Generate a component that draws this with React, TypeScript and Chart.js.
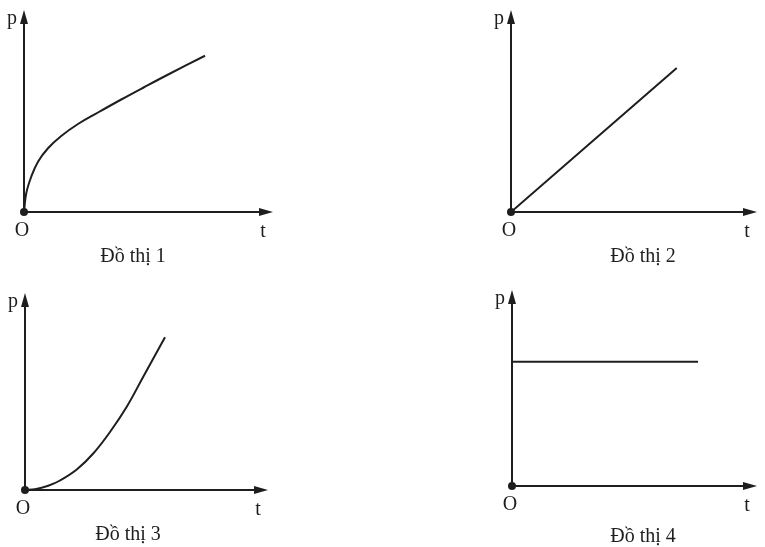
import React, { useEffect, useRef } from "react";
import { Chart, registerables } from "chart.js";

Chart.register(...registerables);

// ---- data (t, p in arbitrary units) ----
const captions = ["Đồ thị 1", "Đồ thị 2", "Đồ thị 3", "Đồ thị 4"];
const axisLabelP = "p";
const axisLabelT = "t";
const originLabel = "O";

const axisMaxT = [9.96, 9.84, 9.72, 9.8];
const axisMaxP = [8.08, 8.08, 7.88, 7.84];

const graph1T = [0, 0.09, 0.29, 0.56, 0.96, 1.49, 2.16, 2.96, 3.89, 4.8, 5.71, 7.24];
const graph1P = [0, 0.75, 1.41, 2.01, 2.55, 3.04, 3.52, 3.98, 4.5, 4.99, 5.47, 6.25];

const graph2T = [0, 6.63];
const graph2P = [0, 5.76];

const graph3T = [0, 0.4, 0.93, 1.4, 2.07, 2.73, 3.4, 4.07, 4.73, 5.6];
const graph3P = [0, 0.03, 0.17, 0.38, 0.82, 1.46, 2.32, 3.33, 4.53, 6.11];

const graph4T = [0, 7.44];
const graph4P = [4.97, 4.97];

const seriesT = [graph1T, graph2T, graph3T, graph4T];
const seriesP = [graph1P, graph2P, graph3P, graph4P];

// ---- styling / layout ----
const INK = "#1e1e1e";
const FONT = "20px 'Liberation Serif', 'Times New Roman', serif";

type Box = {
  left: number; top: number; width: number; height: number;
  pad: { left: number; top: number; right: number; bottom: number };
  capDx: number; capDy: number;
};

const boxes: Box[] = [
  { left: 0, top: 0, width: 382, height: 273, pad: { left: 24, top: 10, right: 109, bottom: 61 }, capDx: 109, capDy: 50 },
  { left: 383, top: 0, width: 382, height: 273, pad: { left: 128, top: 10, right: 8, bottom: 61 }, capDx: 132, capDy: 50 },
  { left: 0, top: 274, width: 382, height: 273, pad: { left: 25, top: 19, right: 114, bottom: 57 }, capDx: 103, capDy: 50 },
  { left: 383, top: 274, width: 382, height: 273, pad: { left: 129, top: 16, right: 8, bottom: 61 }, capDx: 131, capDy: 56 },
];

const axesPlugin = {
  id: "physAxes",
  afterDatasetsDraw(chart: any, _args: any, opts: any) {
    const { ctx, chartArea: a } = chart;
    const x0 = a.left, y0 = a.bottom, x1 = a.right, y1 = a.top;
    ctx.save();
    ctx.strokeStyle = INK;
    ctx.fillStyle = INK;
    ctx.lineWidth = 2;
    ctx.lineCap = "butt";
    // x axis
    ctx.beginPath();
    ctx.moveTo(x0, y0);
    ctx.lineTo(x1 - 10, y0);
    ctx.stroke();
    ctx.beginPath();
    ctx.moveTo(x1, y0);
    ctx.lineTo(x1 - 14, y0 - 4);
    ctx.lineTo(x1 - 14, y0 + 4);
    ctx.closePath();
    ctx.fill();
    // y axis
    ctx.beginPath();
    ctx.moveTo(x0, y0);
    ctx.lineTo(x0, y1 + 10);
    ctx.stroke();
    ctx.beginPath();
    ctx.moveTo(x0, y1);
    ctx.lineTo(x0 - 4, y1 + 14);
    ctx.lineTo(x0 + 4, y1 + 14);
    ctx.closePath();
    ctx.fill();
    // origin dot
    ctx.beginPath();
    ctx.arc(x0, y0, 4, 0, Math.PI * 2);
    ctx.fill();
    // labels
    ctx.font = FONT;
    ctx.textAlign = "center";
    ctx.textBaseline = "alphabetic";
    ctx.fillText(axisLabelP, x0 - 12, y1 + 14);
    ctx.fillText(originLabel, x0 - 2, y0 + 24);
    ctx.fillText(axisLabelT, x1 - 10, y0 + 25);
    ctx.fillText(opts.caption, x0 + opts.capDx, y0 + opts.capDy);
    ctx.restore();
  },
};

function Graph({ idx }: { idx: number }) {
  const ref = useRef<HTMLCanvasElement | null>(null);
  const b = boxes[idx];
  useEffect(() => {
    if (!ref.current) return;
    const pts = seriesT[idx].map((t, i) => ({ x: t, y: seriesP[idx][i] }));
    const chart = new Chart(ref.current, {
      type: "scatter",
      data: {
        datasets: [
          {
            data: pts,
            showLine: true,
            borderColor: INK,
            borderWidth: 2,
            pointRadius: 0,
            tension: 0.4,
            fill: false,
          } as any,
        ],
      },
      options: {
        animation: false,
        responsive: false,
        devicePixelRatio: 1,
        layout: { padding: b.pad },
        scales: {
          x: { type: "linear", min: 0, max: axisMaxT[idx], display: false },
          y: { type: "linear", min: 0, max: axisMaxP[idx], display: false },
        },
        plugins: {
          legend: { display: false },
          tooltip: { enabled: false },
          physAxes: { caption: captions[idx], capDx: b.capDx, capDy: b.capDy },
        } as any,
      },
      plugins: [axesPlugin],
    });
    return () => chart.destroy();
  }, [idx]);
  return (
    <canvas
      ref={ref}
      width={b.width}
      height={b.height}
      style={{ position: "absolute", left: b.left, top: b.top, width: b.width, height: b.height }}
    />
  );
}

export default function App() {
  return (
    <div style={{ position: "absolute", left: 0, top: 0, width: 765, height: 547, background: "#fff" }}>
      {[0, 1, 2, 3].map((i) => (
        <Graph key={i} idx={i} />
      ))}
    </div>
  );
}
